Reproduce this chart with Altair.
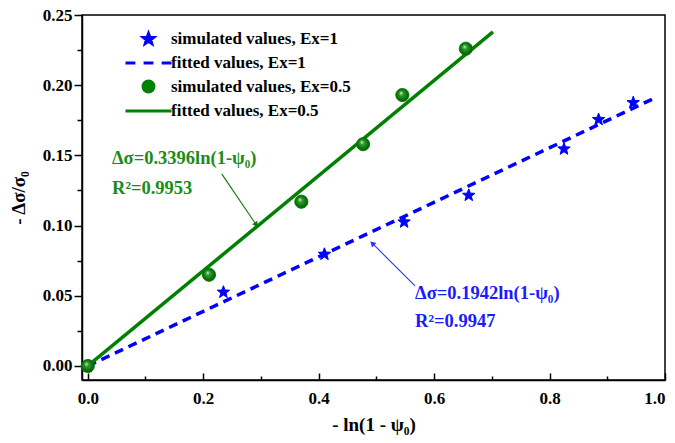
import math
import altair as alt
import pandas as pd

FONT = "Liberation Serif"
BLUE = "#0000ff"
GREEN = "#008000"
GREEN_TXT = "#1a8c1a"
BLUE_TXT = "#1a1aff"

# ---- data ----
sim1_x = [0.0, 0.235, 0.41, 0.548, 0.66, 0.825, 0.885, 0.945]
sim1_y = [0.0, 0.053, 0.080, 0.103, 0.122, 0.155, 0.176, 0.188]
sim05_x = [0.0, 0.21, 0.37, 0.477, 0.545, 0.655]
sim05_y = [0.0, 0.065, 0.117, 0.158, 0.193, 0.226]
fit1_x = [0.0, 0.983]
fit1_y = [0.0, 0.191]
fit05_x = [0.0, 0.702]
fit05_y = [0.0, 0.238]

series_labels = ["simulated values, Ex=1", "fitted values, Ex=1",
                 "simulated values, Ex=0.5", "fitted values, Ex=0.5"]

eq_labels = ["Δσ=0.3396ln(1-ψ₀)", "R²=0.9953", "Δσ=0.1942ln(1-ψ₀)", "R²=0.9947"]
eq_x = [0.042, 0.042, 0.567, 0.567]
eq_y = [0.148, 0.127, 0.052, 0.032]
eq_group = ["g", "g", "b", "b"]

arrow_x0 = [0.232, 0.567]
arrow_y0 = [0.1368, 0.057]
arrow_x1 = [0.291, 0.494]
arrow_y1 = [0.1011, 0.0869]
arrow_group = ["g", "b"]

x_major = [0.0, 0.2, 0.4, 0.6, 0.8, 1.0]
x_minor = [0.1, 0.3, 0.5, 0.7, 0.9]
y_major = [0.0, 0.05, 0.10, 0.15, 0.20, 0.25]
y_minor = [0.025, 0.075, 0.125, 0.175, 0.225]

# ---- styling helpers ----
W, H = 583, 365
x_scale = alt.Scale(domain=[-0.01, 1.0], nice=False, zero=False)
y_scale = alt.Scale(domain=[-0.01, 0.25], nice=False, zero=False)
PX_X = W / 1.01
PX_Y = H / 0.26

STAR = ("M0,-0.9L0.247,-0.24L0.951,-0.209L0.399,0.23L0.588,0.909L0,0.52"
        "L-0.588,0.909L-0.399,0.23L-0.951,-0.209L-0.247,-0.24Z")
CIRCLE = "M1,0A1,1,0,1,1,-1,0A1,1,0,1,1,1,0Z"
DASH = "M-4.2,0H-2.4M-0.9,0H0.9M2.4,0H4.2"
SOLID = "M-4.2,0H4.2"

colmap = {"g": GREEN_TXT, "b": BLUE_TXT}
arrow_col = {"g": "#0a7a0a", "b": "#3030ff"}

ax_x_main = alt.Axis(orient="bottom", values=x_major, format=".1f", ticks=False,
                     labelPadding=10, title="- ln(1 - ψ₀)", titlePadding=9, grid=False)
ax_x_major = alt.Axis(orient="bottom", values=x_major, labels=False, domain=False,
                      ticks=True, tickSize=7, offset=-7, title=None, grid=False)
ax_x_minor = alt.Axis(orient="bottom", values=x_minor, labels=False, domain=False,
                      ticks=True, tickSize=4, offset=-4, title=None, grid=False)
ax_y_main = alt.Axis(orient="left", values=y_major, format=".2f", tickSize=8,
                     labelPadding=2, title="- Δσ/σ₀", titlePadding=14, grid=False)
ax_y_minor = alt.Axis(orient="left", values=y_minor, labels=False, domain=False,
                      ticks=True, tickSize=5, title=None, grid=False)

# ---- tables ----
pts_df = pd.DataFrame({
    "x": sim1_x + sim05_x,
    "y": sim1_y + sim05_y,
    "series": [series_labels[0]] * len(sim1_x) + [series_labels[2]] * len(sim05_x),
})
fit1_df = pd.DataFrame({"x": fit1_x, "y": fit1_y})
fit05_df = pd.DataFrame({"x": fit05_x, "y": fit05_y})
balls_df = pd.DataFrame({"x": sim05_x, "y": sim05_y})
eq_df = pd.DataFrame({"x": eq_x, "y": eq_y, "label": eq_labels,
                      "c": [colmap[g] for g in eq_group]})
ang = []
for x0, y0, x1, y1 in zip(arrow_x0, arrow_y0, arrow_x1, arrow_y1):
    dx = (x1 - x0) * PX_X
    dy = -(y1 - y0) * PX_Y
    ang.append(math.degrees(math.atan2(dx, -dy)) % 360)
arr_df = pd.DataFrame({"x": arrow_x0, "y": arrow_y0, "x2": arrow_x1, "y2": arrow_y1,
                       "c": [arrow_col[g] for g in arrow_group], "ang": ang})

# ---- layers ----
fit_blue = alt.Chart(fit1_df).mark_line(color=BLUE, strokeWidth=3.5, strokeDash=[9, 6]).encode(
    x=alt.X("x:Q", scale=x_scale, axis=ax_x_major),
    y=alt.Y("y:Q", scale=y_scale, axis=ax_y_minor),
)
fit_green = alt.Chart(fit05_df).mark_line(color=GREEN, strokeWidth=3.5).encode(
    x=alt.X("x:Q", scale=x_scale, axis=None),
    y=alt.Y("y:Q", scale=y_scale, axis=None),
)
points = alt.Chart(pts_df).mark_point(opacity=1, size=170, strokeWidth=1).encode(
    x=alt.X("x:Q", scale=x_scale, axis=ax_x_main),
    y=alt.Y("y:Q", scale=y_scale, axis=ax_y_main),
    shape=alt.Shape("series:N", title=None,
                    scale=alt.Scale(domain=series_labels, range=[STAR, DASH, CIRCLE, SOLID])),
    fill=alt.Fill("series:N", title=None,
                  scale=alt.Scale(domain=series_labels, range=[BLUE, BLUE, GREEN, GREEN])),
    stroke=alt.Stroke("series:N", title=None,
                      scale=alt.Scale(domain=series_labels, range=[BLUE, BLUE, GREEN, GREEN])),
)
balls = alt.Chart(balls_df).mark_circle(
    size=150, opacity=1,
    fill={"gradient": "radial", "x1": 0.38, "y1": 0.32, "r1": 0.0,
          "x2": 0.5, "y2": 0.5, "r2": 0.55,
          "stops": [{"offset": 0.0, "color": "#e6ffe6"},
                    {"offset": 0.3, "color": "#2f9f2f"},
                    {"offset": 1.0, "color": "#005500"}]},
).encode(
    x=alt.X("x:Q", scale=x_scale, axis=None),
    y=alt.Y("y:Q", scale=y_scale, axis=None),
)
arrows = alt.Chart(arr_df).mark_rule(strokeWidth=1.1).encode(
    x=alt.X("x:Q", scale=x_scale, axis=None),
    y=alt.Y("y:Q", scale=y_scale, axis=None),
    x2="x2:Q", y2="y2:Q",
    color=alt.Color("c:N", scale=None),
)
heads = alt.Chart(arr_df).mark_point(shape="triangle", filled=True, size=40, opacity=1).encode(
    x=alt.X("x2:Q", scale=x_scale, axis=None),
    y=alt.Y("y2:Q", scale=y_scale, axis=None),
    angle=alt.Angle("ang:Q", scale=None),
    color=alt.Color("c:N", scale=None),
)
texts = alt.Chart(eq_df).mark_text(align="left", baseline="middle", font=FONT,
                                   fontSize=18.5, fontWeight="bold").encode(
    x=alt.X("x:Q", scale=x_scale, axis=ax_x_minor),
    y=alt.Y("y:Q", scale=y_scale, axis=None),
    text="label:N",
    color=alt.Color("c:N", scale=None),
)

chart = alt.layer(fit_blue, fit_green, points, balls, arrows, heads, texts).resolve_axis(
    x="independent", y="independent"
).properties(
    width=W, height=H,
    autosize=alt.AutoSizeParams(type="none"),
    padding={"left": 82, "top": 15, "right": 10, "bottom": 63},
).configure_view(
    stroke="black", strokeWidth=1.5
).configure_axis(
    labelFont=FONT, labelFontSize=17, labelFontWeight="bold", labelColor="black",
    titleFont=FONT, titleFontSize=19, titleFontWeight="bold", titleColor="black",
    domainColor="black", domainWidth=1.5, tickColor="black", tickWidth=1.5,
).configure_legend(
    orient="none", legendX=58, legendY=15, padding=0,
    labelFont=FONT, labelFontSize=17, labelFontWeight="bold", labelColor="black",
    labelLimit=400, symbolSize=120, symbolStrokeWidth=3, rowPadding=3.5, labelOffset=14,
)

chart.save("out.html", embed_options={"renderer": "svg", "actions": False})
